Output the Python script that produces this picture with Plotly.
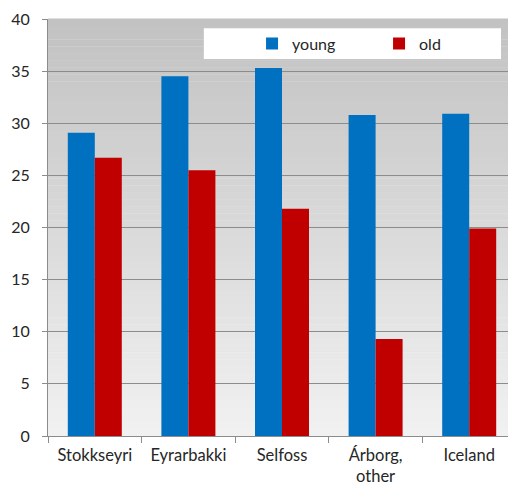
import plotly.graph_objects as go

categories = ["Stokkseyri", "Eyrarbakki", "Selfoss", "Árborg,<br>other", "Iceland"]
young = [29.1, 34.5, 35.3, 30.8, 30.9]
old = [26.7, 25.5, 21.8, 9.3, 19.9]
y_ticks = [0, 5, 10, 15, 20, 25, 30, 35, 40]

BLUE = "#0070C0"
RED = "#C00000"
GRID = "#8c8c8c"
FONT = "Lato"
TXT = "#262626"

fig = go.Figure()
fig.add_trace(go.Bar(name="young", x=categories, y=young, marker=dict(color=BLUE, line=dict(width=0))))
fig.add_trace(go.Bar(name="old", x=categories, y=old, marker=dict(color=RED, line=dict(width=0))))

# gradient background of plot area (decorative)
shapes = []
n = 60
top = (194, 194, 194)
bot = (241, 241, 241)
for i in range(n):
    t = i / (n - 1)
    c = tuple(round(bot[k] + (top[k] - bot[k]) * t) for k in range(3))
    shapes.append(dict(type="rect", xref="paper", yref="paper",
                       x0=0, x1=1, y0=i / n, y1=(i + 1) / n + 0.001,
                       fillcolor="rgb(%d,%d,%d)" % c, line=dict(width=0), layer="below"))
# white legend box
shapes.append(dict(type="rect", xref="paper", yref="paper",
                   x0=0.333, x1=0.968, y0=0.904, y1=0.978,
                   fillcolor="white", line=dict(width=0), layer="below"))

fig.update_layout(
    width=508, height=478,
    margin=dict(l=40, r=0, t=11, b=50),
    paper_bgcolor="white",
    plot_bgcolor="rgba(0,0,0,0)",
    font=dict(family=FONT, size=16, color=TXT),
    barmode="group",
    bargap=0.423,
    bargroupgap=0,
    shapes=shapes,
    showlegend=True,
    legend=dict(orientation="h", x=0.436, y=0.941, xanchor="left", yanchor="middle",
                bgcolor="rgba(0,0,0,0)", entrywidth=82, entrywidthmode="pixels",
                font=dict(family=FONT, size=16, color=TXT), traceorder="normal"),
    xaxis=dict(type="category", tickson="boundaries", ticks="outside", ticklen=6,
               tickcolor=GRID, showline=True, linecolor=GRID, linewidth=1,
               showgrid=False, ticklabelstandoff=4, automargin=False,
               tickfont=dict(size=16.5)),
    yaxis=dict(range=[0, 40], tickvals=y_ticks, ticks="outside", ticklen=5,
               tickcolor=GRID, showline=True, linecolor=GRID, linewidth=1,
               showgrid=True, gridcolor=GRID, gridwidth=1, zeroline=False,
               ticklabelstandoff=9, automargin=False),
)

fig.write_html("out.html")
